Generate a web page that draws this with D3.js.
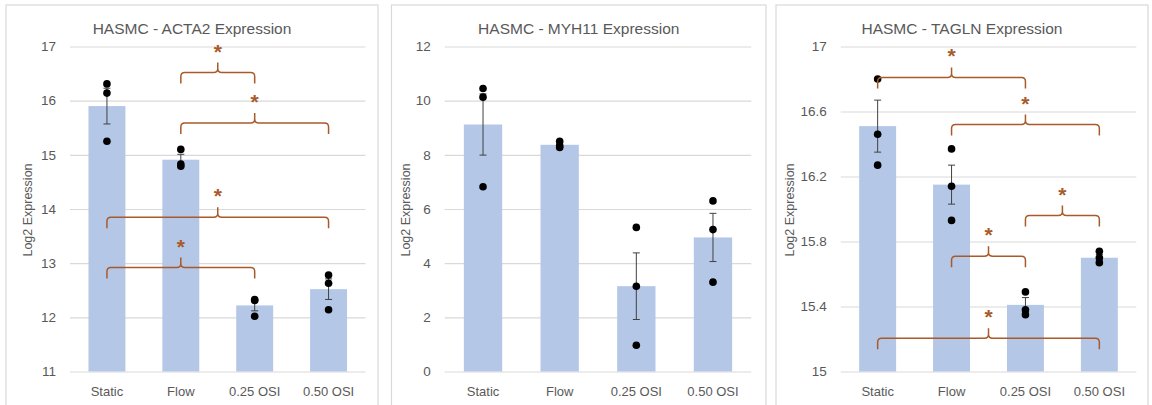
<!DOCTYPE html>
<html>
<head>
<meta charset="utf-8">
<script src="https://cdn.jsdelivr.net/npm/d3@7"></script>
<style>
  html, body { margin: 0; padding: 0; background: #fff; }
  svg { display: block; }
  text { font-family: "Liberation Sans", Arial, sans-serif; }
</style>
</head>
<body>
<svg id="chart" width="1152" height="405"></svg>
<script>
// Conditions on the x axis
const categories = ["Static", "Flow", "0.25 OSI", "0.50 OSI"];

// ACTA2: group means, standard errors and individual replicates
const acta2Mean = [15.90, 14.91, 12.22, 12.52];
const acta2Sem = [0.33, 0.10, 0.10, 0.19];
const acta2Points = [[16.31, 16.14, 15.25], [15.10, 14.83, 14.79], [12.33, 12.31, 12.02], [12.78, 12.63, 12.14]];
const acta2Ticks = [11, 12, 13, 14, 15, 16, 17];
// significance brackets: [from, to, level of the horizontal line]
const acta2Brackets = [[1, 2, 16.52], [1, 3, 15.59], [0, 3, 13.85], [0, 2, 12.92]];

// MYH11
const myh11Mean = [9.12, 8.37, 3.15, 4.95];
const myh11Sem = [1.13, 0.07, 1.23, 0.89];
const myh11Points = [[10.45, 10.13, 6.82], [8.50, 8.34, 8.27], [5.32, 3.15, 0.97], [6.30, 5.24, 3.30]];
const myh11Ticks = [0, 2, 4, 6, 8, 10, 12];
const myh11Brackets = [];

// TAGLN
const taglnMean = [16.51, 16.15, 15.41, 15.70];
const taglnSem = [0.16, 0.12, 0.045, 0.02];
const taglnPoints = [[16.80, 16.46, 16.27], [16.37, 16.14, 15.93], [15.49, 15.38, 15.35], [15.74, 15.70, 15.67]];
const taglnTicks = [15, 15.4, 15.8, 16.2, 16.6, 17];
const taglnTickLabels = ["15", "15.4", "15.8", "16.2", "16.6", "17"];
const taglnBrackets = [[0, 2, 16.81], [1, 3, 16.52], [2, 3, 15.96], [1, 2, 15.71], [0, 3, 15.205]];

const titles = ["HASMC - ACTA2 Expression", "HASMC - MYH11 Expression", "HASMC - TAGLN Expression"];
const yLabel = "Log2 Expression";

const panels = [
  { title: titles[0], mean: acta2Mean, sem: acta2Sem, points: acta2Points, ticks: acta2Ticks,
    tickLabels: acta2Ticks.map(String), brackets: acta2Brackets,
    frame: [6, 5, 372], plot: [70, 365.5], labelX: 28, tickGap: 14 },
  { title: titles[1], mean: myh11Mean, sem: myh11Sem, points: myh11Points, ticks: myh11Ticks,
    tickLabels: myh11Ticks.map(String), brackets: myh11Brackets,
    frame: [391.5, 5, 374.5], plot: [444.7, 751.3], labelX: 406, tickGap: 14 },
  { title: titles[2], mean: taglnMean, sem: taglnSem, points: taglnPoints, ticks: taglnTicks,
    tickLabels: taglnTickLabels, brackets: taglnBrackets,
    frame: [776, 5, 372], plot: [840.7, 1136.3], labelX: 790, tickGap: 14 }
];

const yTop = 46.5, yBottom = 371.5;
const textColor = "#595959";
const gridColor = "#D9D9D9";
const barColor = "#B4C7E7";
const bracketColor = "#A85A2A";

const svg = d3.select("#chart");

panels.forEach(p => {
  const g = svg.append("g");

  // chart area border
  g.append("rect")
    .attr("x", p.frame[0]).attr("y", p.frame[1])
    .attr("width", p.frame[2]).attr("height", 420)
    .attr("fill", "#fff").attr("stroke", gridColor).attr("stroke-width", 1.2);

  const x = d3.scaleBand().domain(categories).range(p.plot).paddingInner(0.5).paddingOuter(0.25);
  const y = d3.scaleLinear().domain(d3.extent(p.ticks)).range([yBottom, yTop]);

  // gridlines + y labels via axis
  const yAxis = d3.axisLeft(y).tickValues(p.ticks)
    .tickFormat((d, i) => p.tickLabels[i])
    .tickSize(-(p.plot[1] - p.plot[0])).tickPadding(p.tickGap);
  const ya = g.append("g").attr("transform", `translate(${p.plot[0]},0)`).call(yAxis);
  ya.select(".domain").remove();
  ya.selectAll(".tick line").attr("stroke", gridColor).attr("stroke-width", 1.2);
  ya.selectAll(".tick text").attr("fill", textColor).style("font-size", "13.5px")
    .style("font-family", "'Liberation Sans', Arial, sans-serif");

  // x labels via axis
  const xAxis = d3.axisBottom(x).tickSize(0).tickPadding(15);
  const xa = g.append("g").attr("transform", `translate(0,${yBottom})`).call(xAxis);
  xa.select(".domain").remove();
  xa.selectAll(".tick text").attr("fill", textColor).style("font-size", "13px")
    .style("font-family", "'Liberation Sans', Arial, sans-serif");

  // bars
  g.selectAll("rect.bar").data(p.mean).join("rect").attr("class", "bar")
    .attr("x", (d, i) => x(categories[i]))
    .attr("width", x.bandwidth())
    .attr("y", d => y(d))
    .attr("height", d => yBottom - y(d))
    .attr("fill", barColor);

  // error bars (mean ± SEM)
  const eb = g.selectAll("g.err").data(p.mean).join("g").attr("class", "err");
  const cx = i => x(categories[i]) + x.bandwidth() / 2;
  eb.append("line")
    .attr("x1", (d, i) => cx(i)).attr("x2", (d, i) => cx(i))
    .attr("y1", (d, i) => y(d + p.sem[i])).attr("y2", (d, i) => y(d - p.sem[i]))
    .attr("stroke", "#404040").attr("stroke-width", 1);
  [1, -1].forEach(s => {
    eb.append("line")
      .attr("x1", (d, i) => cx(i) - 3.5).attr("x2", (d, i) => cx(i) + 3.5)
      .attr("y1", (d, i) => y(d + s * p.sem[i])).attr("y2", (d, i) => y(d + s * p.sem[i]))
      .attr("stroke", "#404040").attr("stroke-width", 1);
  });

  // individual replicates
  p.points.forEach((vals, i) => {
    g.selectAll(null).data(vals).join("circle")
      .attr("cx", cx(i)).attr("cy", d => y(d)).attr("r", 3.8).attr("fill", "#000");
  });

  // significance brackets
  const drop = 11, spike = 10, r = 4;
  p.brackets.forEach(([a, b, lvl]) => {
    const x1 = cx(a), x2 = cx(b), xc = (x1 + x2) / 2, y0 = y(lvl);
    const path = `M${x1},${y0 + drop} L${x1},${y0 + r} Q${x1},${y0} ${x1 + r},${y0} L${xc - r},${y0} Q${xc},${y0} ${xc},${y0 - r} L${xc},${y0 - spike}` +
      ` M${xc},${y0 - r} Q${xc},${y0} ${xc + r},${y0} L${x2 - r},${y0} Q${x2},${y0} ${x2},${y0 + r} L${x2},${y0 + drop}`;
    g.append("path").attr("d", path).attr("fill", "none")
      .attr("stroke", bracketColor).attr("stroke-width", 1.5);
    g.append("text").attr("x", xc).attr("y", y0 - spike - 16 + 12)
      .attr("text-anchor", "middle").attr("fill", bracketColor)
      .style("font-size", "21px").style("font-weight", "bold").text("*");
  });

  // title
  g.append("text").attr("x", p.frame[0] + p.frame[2] / 2).attr("y", 34)
    .attr("text-anchor", "middle").attr("fill", textColor)
    .style("font-size", "15.5px").text(p.title);

  // y axis title
  g.append("text")
    .attr("transform", `translate(${p.labelX + 4},210) rotate(-90)`)
    .attr("text-anchor", "middle").attr("fill", textColor)
    .style("font-size", "12.5px").text(yLabel);
});
</script>
</body>
</html>
